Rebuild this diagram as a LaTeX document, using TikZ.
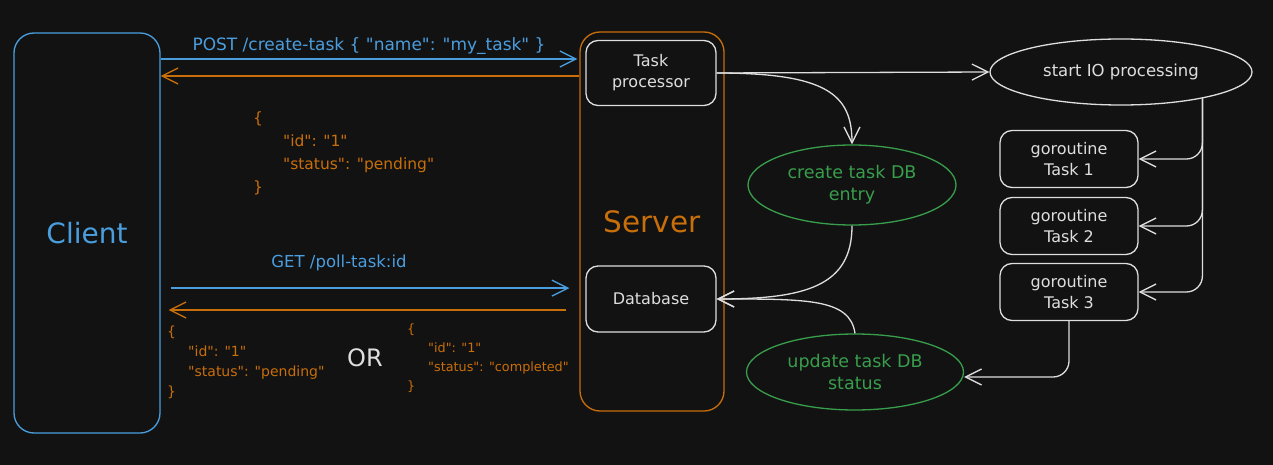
\documentclass[tikz,border=0pt]{standalone}
\usepackage{fontspec}
\setmainfont{DejaVu Sans}[Ligatures=TeXOff]
\usepackage{color}
\definecolor{bgdark}{RGB}{18,18,18}
\definecolor{myblue}{RGB}{74,158,222}
\definecolor{myorange}{RGB}{200,110,10}
\definecolor{mygreen}{RGB}{56,158,76}
\definecolor{mywhite}{RGB}{222,222,222}
\usepackage{tikz}
\usetikzlibrary{arrows.meta,positioning,shapes.geometric}
\tikzstyle{box}=[draw=mywhite,text=mywhite,rounded corners=12pt,line width=1.3pt,align=center,font=\fontsize{16}{21}\selectfont]

\begin{document}
\begin{tikzpicture}[
  x=1pt,y=-1pt,
  bigbox/.style={draw,rounded corners=20pt,line width=1.3pt,font=\fontsize{28}{32}\selectfont},
  oval/.style={ellipse,draw=mywhite,text=mywhite,line width=1.3pt,align=center,inner sep=0pt,font=\fontsize{16.5}{22}\selectfont},
  arr/.style={-{Straight Barb[length=16pt,width=16pt,line width=1.3pt]},line width=1.3pt,draw=mywhite},
  json/.style={text=myorange,align=left,inner sep=0pt},
  reqlabel/.style={text=myblue,font=\fontsize{17}{20}\selectfont}
]
\path[use as bounding box,fill=bgdark] (0,0) rectangle (1273,465);

\node[bigbox,draw=myblue,text=myblue,minimum width=146pt,minimum height=400pt] (client) at (87,233) {Client};
\node[bigbox,draw=myorange,text=myorange,minimum width=144pt,minimum height=379pt,font=\fontsize{29.5}{32}\selectfont] (server) at (652,221.5) {Server};

\node[box,minimum width=130pt,minimum height=65pt] (tp) at (651,73) {Task\\processor};
\node[box,minimum width=130pt,minimum height=66pt] (db) at (651,299) {Database};

\node[oval,minimum width=262pt,minimum height=66pt] (startio) at (1121,72) {start IO processing};
\node[oval,draw=mygreen,text=mygreen,minimum width=208pt,minimum height=80pt,font=\fontsize{17.5}{22}\selectfont] (create) at (852,185) {create task DB\\entry};
\node[oval,draw=mygreen,text=mygreen,minimum width=217pt,minimum height=76pt,font=\fontsize{17.5}{22}\selectfont] (update) at (855,372) {update task DB\\status};

\foreach \i/\y in {1/159,2/226,3/292}
  \node[box,minimum width=138pt,minimum height=57pt] (g\i) at (1069,\y) {goroutine\\Task \i};

\node[reqlabel] (postlbl) at (369,46) {POST /create-task \{ "name": "my\_task" \}};
\node[reqlabel,font=\fontsize{16.5}{20}\selectfont] (getlbl) at (339,263) {GET /poll-task:id};

\node[json,anchor=north west,font=\fontsize{15.5}{23}\selectfont] (resp1) at (253,112)
  {\{\\\hspace*{30pt}"id": "1"\\\hspace*{30pt}"status": "pending"\\\}};
\node[json,anchor=north west,font=\fontsize{14}{20}\selectfont] (resp2) at (167,326)
  {\{\\\hspace*{21pt}"id": "1"\\\hspace*{21pt}"status": "pending"\\\}};
\node[json,anchor=north west,font=\fontsize{12.8}{19}\selectfont] (resp3) at (407,324)
  {\{\\\hspace*{21pt}"id": "1"\\\hspace*{21pt}"status": "completed"\\\}};
\node[text=mywhite,font=\fontsize{24}{28}\selectfont] (orlbl) at (365,358) {OR};

\draw[arr,draw=myblue] ([yshift=-1pt]client.east |- postlbl.south) -- ([xshift=-2pt,yshift=-1pt]server.west |- postlbl.south);
\draw[arr,draw=myorange] ([yshift=-3pt]server.west |- tp.west) -- ([yshift=-3pt]client.east |- tp.west);
\draw[arr,draw=myblue] ([xshift=10pt,yshift=-13.6pt]client.east |- getlbl.south) -- ([xshift=-10pt,yshift=-13.6pt]server.west |- getlbl.south);
\draw[arr,draw=myorange] ([xshift=-13pt,yshift=-11pt]server.west |- db.west) -- ([xshift=8pt,yshift=-11pt]client.east |- db.west);

\draw[arr] (tp.east) -- (startio.west);
\draw[arr] (tp.east) .. controls +(110,0) and +(0,-50) .. (create.north);
\draw[arr] (create.south) .. controls +(0,60) and +(90,0) .. (db.east);
\draw[arr] (update.north) .. controls +(-5,-35) and +(90,0) .. (db.east);
\foreach \i in {1,2,3}
  \draw[arr,rounded corners=16pt] (startio.-18) |- (g\i.east);
\draw[arr,rounded corners=16pt] (g3.south) |- ([yshift=-5pt]update.east);

\end{tikzpicture}
\end{document}
